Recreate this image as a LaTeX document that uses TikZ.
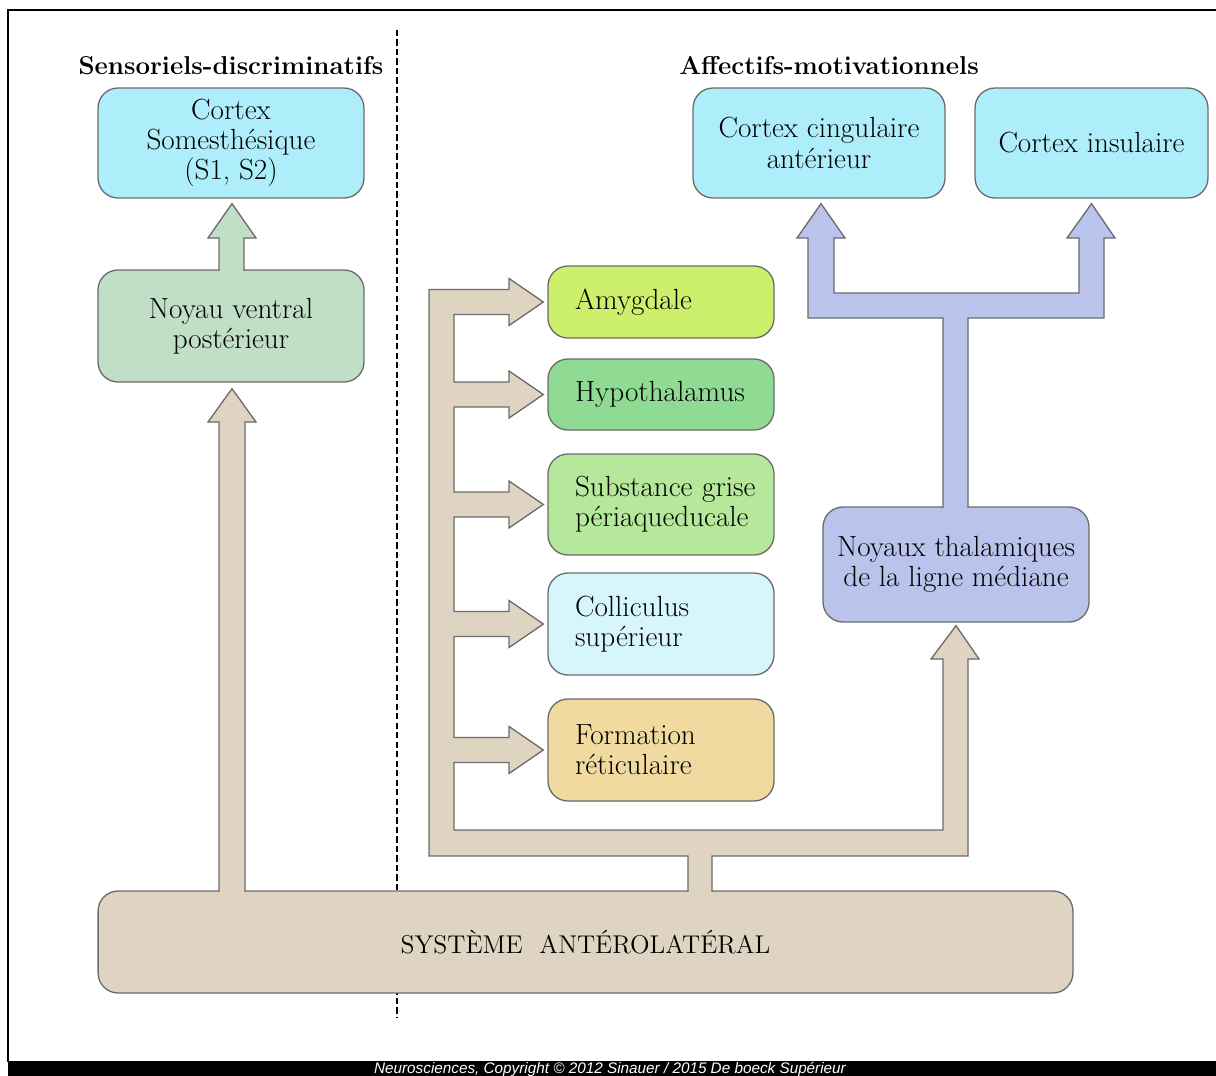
\documentclass[tikz,border=0pt]{standalone}
\usepackage{fontspec}
\usepackage{tikz}
\usetikzlibrary{calc}
\newfontfamily\creditfont{Liberation Sans}
\newcommand{\regionfont}{\fontsize{16.6}{17.2}\selectfont}
\definecolor{edgegray}{HTML}{6B6B6B}
\definecolor{cortexblue}{HTML}{AEEEFB}
\definecolor{vplgreen}{HTML}{C1DFC6}
\definecolor{amyfill}{HTML}{CCF06C}
\definecolor{hypfill}{HTML}{8FDB94}
\definecolor{sgpfill}{HTML}{B6E89B}
\definecolor{colfill}{HTML}{D6F5FD}
\definecolor{frfill}{HTML}{F0DA9F}
\definecolor{thalblue}{HTML}{B9C3EC}
\definecolor{spinaltan}{HTML}{DFD3C1}
\tikzstyle{region} = [draw = edgegray, line width = 0.75pt, rounded corners = 0.4cm, inner sep = 0pt, align = center, font = \regionfont]
\tikzstyle{cortex region} = [region, fill = cortexblue, minimum height = 2.2cm]
\tikzstyle{target region} = [region, align = left, text width = 3.44cm, inner xsep = 0.54cm]
\tikzstyle{heading} = [anchor = base, font = \bfseries\fontsize{14.7}{16}\selectfont]
\tikzstyle{fat arrow} = [draw = edgegray, line width = 0.75pt, line join = miter]
\tikzstyle{tan arrow} = [fat arrow, fill = spinaltan]
\tikzstyle{divider} = [line width = 1.6pt, dash pattern = on 3.6pt off 1.8pt]
\tikzstyle{credit} = [anchor = base, text = white, font = \creditfont\itshape\fontsize{8.7}{10}\selectfont]

\begin{document}
\begin{tikzpicture}[x = 0.02cm, y = -0.02cm]
            \useasboundingbox (0, 0) rectangle (1216, 1075);

            % frame and credit line
            \draw [line width = 1.2pt] (8, 1062) -- (8, 10) -- (1230, 10);
            \fill [black] (8, 1061) rectangle (1230, 1090);
            \node [credit] (credit) at (610, 1073)
                {Neurosciences, Copyright © 2012 Sinauer / 2015 De boeck Supérieur};

            \draw [divider] (397, 30) -- (397, 1018);

            \node [heading] (sensory) at (231, 74) {Sensoriels-discriminatifs};
            \node [heading] (affective) at (829, 74) {Affectifs-motivationnels};

            \node [cortex region, minimum width = 5.32cm] (somato) at (231, 143)
                {Cortex\\Somesthésique\\(S1, S2)};
            \node [region, fill = vplgreen, minimum width = 5.32cm, minimum height = 2.24cm]
                (vpl) at (231, 326) {Noyau ventral\\postérieur};
            \node [cortex region, minimum width = 5.04cm] (cingulate) at (819, 143)
                {Cortex cingulaire\\antérieur};
            \node [cortex region, minimum width = 4.66cm] (insula) at (1091.5, 143)
                {Cortex insulaire};

            \foreach \n/\y/\h/\c/\t in {amy/302/1.44/amyfill/{Amygdale},
                hyp/394.5/1.42/hypfill/{Hypothalamus},
                sgp/504.5/2.02/sgpfill/{Substance~grise\\périaqueducale},
                col/624/2.04/colfill/{Colliculus\\supérieur},
                fr/750/2.04/frfill/{Formation\\réticulaire}}
            {
                \node [target region, fill = \c, minimum height = \h cm] (\n) at (661, \y) {\t};
            }

            \node [region, fill = thalblue, minimum width = 5.32cm, minimum height = 2.3cm]
                (thal) at (956, 564.5) {Noyaux thalamiques\\de la ligne médiane};
            \node [region, fill = spinaltan, minimum width = 19.5cm, minimum height = 2.04cm,
                font = \fontsize{14.6}{16}\selectfont] (als) at (585.5, 942)
                {SYSTÈME\ \ ANTÉROLATÉRAL};

            % fat arrows
            \filldraw [tan arrow] (245, 891.8) -- (245, 422) -- (256, 422)
                -- ($(vpl.south) + (1, 6)$) -- (208, 422) -- (219, 422) -- (219, 891.8);

            \filldraw [fat arrow, fill = vplgreen] (244, 270.8) -- (244, 238) -- (256, 238)
                -- ($(somato.south) + (1, 5)$) -- (208, 238) -- (219, 238) -- (219, 270.8);

            \filldraw [tan arrow] (712, 891.8) -- (712, 856) -- (968, 856) -- (968, 659)
                -- (979, 659) -- ($(thal.south) + (0, 3)$) -- (931, 659) -- (943, 659)
                -- (943, 830) -- (454, 830)
            \foreach \t/\y in {fr/750, col/624, sgp/504.5, hyp/394.5, amy/302}
            {
                -- (454, \y + 12.5) -- (509, \y + 12.5) -- (509, \y + 23.5)
                -- ($(\t.west) + (-4, 0)$) -- (509, \y - 23.5) -- (509, \y - 12.5) -- (454, \y - 12.5)
            }
                -- (429, 289.5) -- (429, 856) -- (688, 856) -- (688, 891.8);

            \filldraw [fat arrow, fill = thalblue] (968, 507.8) -- (968, 318) -- (1104, 318)
                -- (1104, 238) -- (1115, 238) -- ($(insula.south) + (0, 5)$) -- (1067, 238)
                -- (1079, 238) -- (1079, 293) -- (834, 293) -- (834, 238) -- (845, 238)
                -- ($(cingulate.south) + (2, 5)$) -- (797, 238) -- (808, 238) -- (808, 318)
                -- (943, 318) -- (943, 507.8);
        \end{tikzpicture}
\end{document}
